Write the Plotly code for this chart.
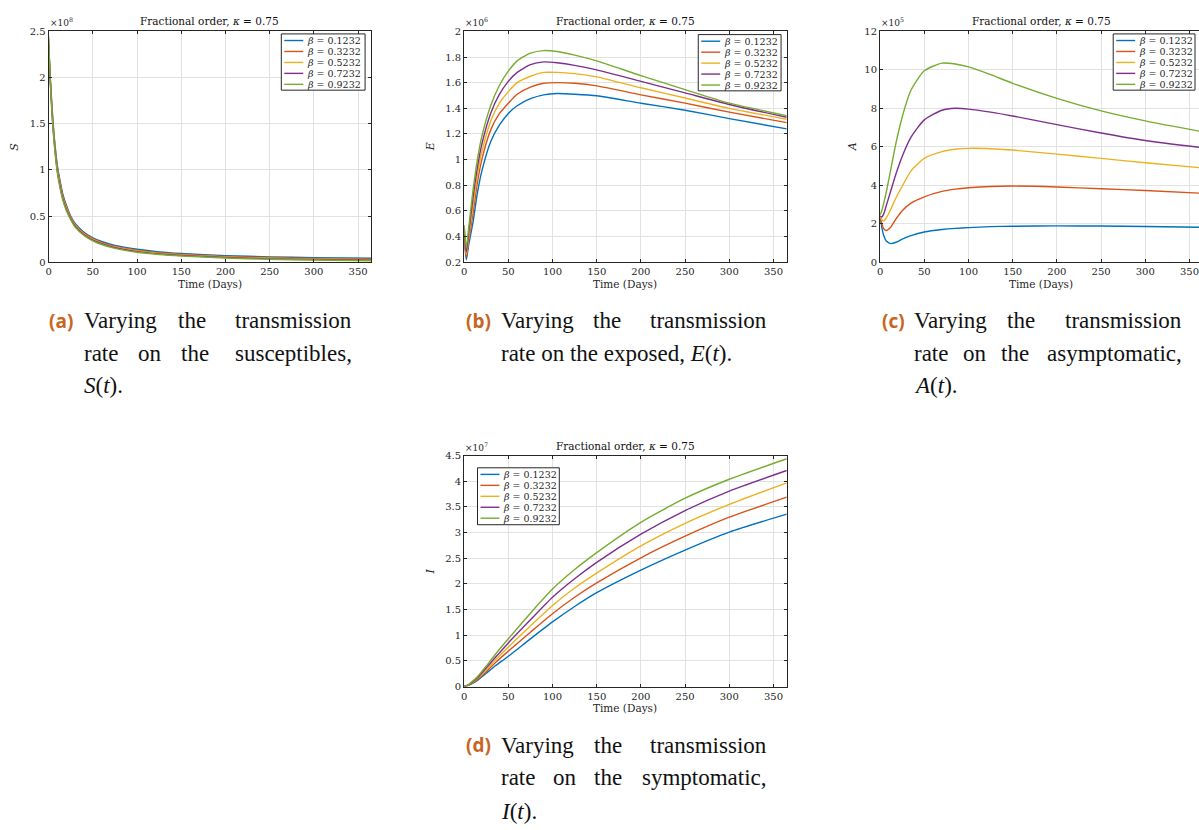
import plotly.graph_objects as go

W, H = 1199, 830

# ---------------- data ----------------
BETAS = [0.1232, 0.3232, 0.5232, 0.7232, 0.9232]
COLORS = ["#0072BD", "#D95319", "#EDB120", "#7E2F8E", "#77AC30"]

# S(t), units of 1e8
T_S = [0, 1, 2, 4, 6, 8, 10, 13, 16, 20, 25, 30, 40, 50, 60, 75, 100, 125, 150, 200, 250, 300, 365]
S_b1 = [2.30, 2.15, 1.98, 1.66, 1.40, 1.20, 1.04, 0.88, 0.74, 0.62, 0.50, 0.42, 0.325, 0.265, 0.225, 0.182, 0.140, 0.112, 0.095, 0.072, 0.058, 0.050, 0.043]
S_b2 = [2.35, 2.16, 1.97, 1.64, 1.38, 1.18, 1.02, 0.86, 0.72, 0.605, 0.49, 0.41, 0.315, 0.256, 0.216, 0.173, 0.130, 0.103, 0.087, 0.064, 0.050, 0.042, 0.035]
S_b3 = [2.38, 2.17, 1.96, 1.62, 1.36, 1.16, 1.00, 0.84, 0.705, 0.59, 0.48, 0.40, 0.306, 0.248, 0.208, 0.165, 0.122, 0.096, 0.080, 0.057, 0.043, 0.035, 0.028]
S_b4 = [2.42, 2.18, 1.95, 1.60, 1.34, 1.14, 0.98, 0.82, 0.69, 0.575, 0.47, 0.39, 0.298, 0.240, 0.200, 0.158, 0.115, 0.090, 0.074, 0.051, 0.037, 0.029, 0.022]
S_b5 = [2.45, 2.19, 1.94, 1.58, 1.32, 1.12, 0.96, 0.80, 0.675, 0.56, 0.46, 0.38, 0.290, 0.232, 0.192, 0.150, 0.108, 0.084, 0.068, 0.046, 0.032, 0.024, 0.017]

# E(t), units of 1e6
T_E = [0, 1, 2.5, 5, 10, 15, 20, 30, 40, 50, 60, 75, 90, 105, 125, 150, 200, 250, 300, 365]
E_b1 = [0.42, 0.31, 0.22, 0.33, 0.51, 0.74, 0.91, 1.14, 1.27, 1.36, 1.42, 1.475, 1.505, 1.515, 1.51, 1.498, 1.44, 1.385, 1.32, 1.24]
E_b2 = [0.44, 0.33, 0.24, 0.36, 0.58, 0.82, 1.00, 1.23, 1.36, 1.44, 1.51, 1.565, 1.595, 1.60, 1.595, 1.575, 1.505, 1.44, 1.37, 1.288]
E_b3 = [0.46, 0.35, 0.26, 0.39, 0.64, 0.88, 1.06, 1.30, 1.44, 1.53, 1.60, 1.65, 1.68, 1.68, 1.67, 1.645, 1.56, 1.48, 1.40, 1.315]
E_b4 = [0.47, 0.37, 0.28, 0.42, 0.70, 0.94, 1.12, 1.36, 1.51, 1.61, 1.68, 1.74, 1.762, 1.755, 1.735, 1.70, 1.61, 1.52, 1.43, 1.33]
E_b5 = [0.49, 0.40, 0.31, 0.46, 0.76, 1.00, 1.18, 1.42, 1.58, 1.69, 1.77, 1.83, 1.85, 1.843, 1.815, 1.77, 1.655, 1.546, 1.44, 1.343]

# A(t), units of 1e5
T_A = [0, 2, 4, 7, 12, 18, 25, 35, 50, 70, 85, 100, 125, 150, 200, 250, 300, 365]
A_b1 = [2.35, 1.80, 1.40, 1.10, 0.97, 1.04, 1.20, 1.38, 1.57, 1.70, 1.76, 1.80, 1.85, 1.87, 1.89, 1.88, 1.86, 1.82]
A_b2 = [2.40, 2.00, 1.75, 1.65, 1.82, 2.25, 2.68, 3.07, 3.40, 3.68, 3.80, 3.87, 3.94, 3.96, 3.91, 3.82, 3.73, 3.58]
A_b3 = [2.40, 2.20, 2.15, 2.30, 2.75, 3.35, 3.95, 4.75, 5.40, 5.75, 5.87, 5.92, 5.90, 5.83, 5.62, 5.40, 5.17, 4.90]
A_b4 = [2.40, 2.35, 2.50, 2.95, 3.70, 4.60, 5.50, 6.50, 7.40, 7.90, 8.00, 7.96, 7.80, 7.60, 7.15, 6.72, 6.33, 5.95]
A_b5 = [2.45, 2.70, 3.05, 3.65, 4.80, 6.20, 7.55, 8.95, 9.95, 10.35, 10.30, 10.15, 9.75, 9.30, 8.52, 7.87, 7.35, 6.78]

# I(t), units of 1e7
T_I = [0, 5, 10, 15, 25, 35, 50, 75, 100, 125, 150, 200, 250, 300, 365]
I_b1 = [0, 0.025, 0.065, 0.12, 0.26, 0.40, 0.59, 0.93, 1.26, 1.56, 1.83, 2.27, 2.66, 3.01, 3.36]
I_b2 = [0, 0.030, 0.075, 0.14, 0.29, 0.46, 0.69, 1.06, 1.42, 1.74, 2.02, 2.51, 2.93, 3.30, 3.69]
I_b3 = [0, 0.030, 0.085, 0.155, 0.32, 0.51, 0.77, 1.18, 1.58, 1.92, 2.21, 2.74, 3.18, 3.55, 3.97]
I_b4 = [0, 0.035, 0.095, 0.17, 0.36, 0.56, 0.85, 1.30, 1.74, 2.10, 2.42, 2.97, 3.43, 3.81, 4.21]
I_b5 = [0, 0.040, 0.110, 0.19, 0.40, 0.62, 0.93, 1.43, 1.90, 2.28, 2.61, 3.20, 3.67, 4.04, 4.44]

X_TICKS = [0, 50, 100, 150, 200, 250, 300, 350]
S_TICKS = [0, 0.5, 1, 1.5, 2, 2.5]
E_TICKS = [0.2, 0.4, 0.6, 0.8, 1, 1.2, 1.4, 1.6, 1.8, 2]
A_TICKS = [0, 2, 4, 6, 8, 10, 12]
I_TICKS = [0, 0.5, 1, 1.5, 2, 2.5, 3, 3.5, 4, 4.5]

TITLE = "Fractional order, <i>κ</i> = 0.75"

# ---------------- layout geometry (pixels) ----------------
PF = "DejaVu Serif"
INK = "#262626"

panels = [
    dict(t=T_S, ys=[S_b1, S_b2, S_b3, S_b4, S_b5], yr=[0, 2.5], yt=S_TICKS, exp="8", ylab="S",
         x0=45.7, x1=369.3, top=26.7, bot=260.7, xmax=365, ylx=12, legend=(279, 29.3, 84, 57), ymirror=True),
    dict(t=T_E, ys=[E_b1, E_b2, E_b3, E_b4, E_b5], yr=[0.2, 2], yt=E_TICKS, exp="6", ylab="E",
         x0=462.3, x1=785.7, top=26.7, bot=260.7, xmax=365, ylx=428.5, legend=(697, 30, 83, 57), ymirror=True),
    dict(t=T_A, ys=[A_b1, A_b2, A_b3, A_b4, A_b5], yr=[0, 12], yt=A_TICKS, exp="5", ylab="A",
         x0=879.3, x1=1199, top=26.7, bot=260.7, xmax=360.8, ylx=851.7, legend=(1113, 29.3, 82, 57), ymirror=False),
    dict(t=T_I, ys=[I_b1, I_b2, I_b3, I_b4, I_b5], yr=[0, 4.5], yt=I_TICKS, exp="7", ylab="I",
         x0=462.3, x1=785.7, top=456.7, bot=690.7, xmax=365, ylx=428.5, legend=(475.7, 469, 82, 57.7), ymirror=True),
]


def fx(px):
    return px / W


def fy(py):
    return 1 - py / H


def fmt(v):
    return "%g" % v


fig = go.Figure()
annotations = []
shapes = []

for k, p in enumerate(panels):
    sfx = "" if k == 0 else str(k + 1)
    xa = "x" + sfx
    ya = "y" + sfx
    for i, (b, c) in enumerate(zip(BETAS, COLORS)):
        fig.add_trace(go.Scatter(
            x=p["t"], y=p["ys"][i], mode="lines", xaxis=xa, yaxis=ya,
            line=dict(color=c, width=1.4, shape="spline", smoothing=0.6),
            name="β = %g" % b, showlegend=False, hoverinfo="skip"))

    common = dict(showgrid=True, gridcolor="#e2e2e2", gridwidth=1, showline=True,
                  linecolor=INK, linewidth=1, ticks="inside", ticklen=3, tickcolor=INK,
                  tickwidth=1, zeroline=False, tickfont=dict(family=PF, size=10, color=INK))
    fig.layout["xaxis" + sfx] = dict(
        common, domain=[fx(p["x0"]), fx(p["x1"])], range=[0, p["xmax"]], anchor=ya,
        tickvals=X_TICKS, ticktext=[str(v) for v in X_TICKS], mirror="allticks")
    fig.layout["yaxis" + sfx] = dict(
        common, domain=[fy(p["bot"]), fy(p["top"])], range=p["yr"], anchor=xa,
        tickvals=p["yt"], ticktext=[fmt(v) for v in p["yt"]],
        mirror="allticks" if p["ymirror"] else False)

    cx = p["x0"] + 323.4 / 2
    # title
    annotations.append(dict(x=fx(cx), y=fy(p["top"] - 10), xref="paper", yref="paper",
                            text=TITLE, showarrow=False, xanchor="center", yanchor="middle",
                            font=dict(family=PF, size=10.5, color="#111")))
    # exponent
    annotations.append(dict(x=fx(p["x0"] - 1), y=fy(p["top"] - 1), xref="paper", yref="paper",
                            text="×10<sup>%s</sup>" % p["exp"], showarrow=False,
                            xanchor="left", yanchor="bottom",
                            font=dict(family=PF, size=9, color=INK)))
    # y label
    annotations.append(dict(x=fx(p["ylx"]), y=fy((p["top"] + p["bot"]) / 2), xref="paper", yref="paper",
                            text="<i>%s</i>" % p["ylab"], showarrow=False, textangle=-90,
                            xanchor="center", yanchor="middle",
                            font=dict(family=PF, size=11, color=INK)))
    # x label
    annotations.append(dict(x=fx(cx), y=fy(p["bot"] + 22), xref="paper", yref="paper",
                            text="Time (Days)", showarrow=False, xanchor="center", yanchor="middle",
                            font=dict(family=PF, size=10.5, color=INK)))
    # legend box
    lx, ly, lw, lh = p["legend"]
    shapes.append(dict(type="rect", xref="paper", yref="paper", x0=fx(lx), x1=fx(lx + lw),
                       y0=fy(ly + lh), y1=fy(ly), line=dict(color=INK, width=1), fillcolor="white"))
    for i, (b, c) in enumerate(zip(BETAS, COLORS)):
        cy = ly + 6.7 + 11.1 * i
        shapes.append(dict(type="line", xref="paper", yref="paper", x0=fx(lx + 3), x1=fx(lx + 22),
                           y0=fy(cy), y1=fy(cy), line=dict(color=c, width=1.4)))
        annotations.append(dict(x=fx(lx + 24), y=fy(cy), xref="paper", yref="paper",
                                text="<i>β</i> = %g" % b, showarrow=False, xanchor="left",
                                yanchor="middle", font=dict(family=PF, size=9.5, color=INK)))

# ---------------- captions ----------------
CF = "Liberation Serif"
CS = 23
ORANGE = "#c8651e"


def word(x, y, text, anchor="left"):
    annotations.append(dict(x=fx(x), y=fy(y), xref="paper", yref="paper", text=text,
                            showarrow=False, xanchor=anchor, yanchor="middle",
                            font=dict(family=CF, size=CS, color="#111")))


def label(x, y, text):
    annotations.append(dict(x=fx(x), y=fy(y), xref="paper", yref="paper", text="<b>%s</b>" % text,
                            showarrow=False, xanchor="left", yanchor="middle",
                            font=dict(family="Open Sans", size=19, color=ORANGE)))


# (a)
label(44, 320, "(a)")
word(79, 320, "Varying"); word(189, 320, "the", "center"); word(352, 320, "transmission", "right")
word(79, 353, "rate"); word(147, 353, "on", "center"); word(192, 353, "the", "center"); word(352, 353, "susceptibles,", "right")
word(79, 386, "<i>S</i>(<i>t</i>).")
# (b)
label(462, 320, "(b)")
word(497, 320, "Varying"); word(606, 320, "the", "center"); word(768, 320, "transmission", "right")
word(497, 353, "rate on the exposed, <i>E</i>(<i>t</i>).")
# (c)
label(879, 320, "(c)")
word(911, 320, "Varying"); word(1021, 320, "the", "center"); word(1184, 320, "transmission", "right")
word(911, 353, "rate"); word(974, 353, "on", "center"); word(1015, 353, "the", "center"); word(1184, 353, "asymptomatic,", "right")
word(911, 386, "<i>A</i>(<i>t</i>).")
# (d)
label(462, 750, "(d)")
word(497, 750, "Varying"); word(607, 750, "the", "center"); word(768, 750, "transmission", "right")
word(497, 783, "rate"); word(563, 783, "on", "center"); word(607, 783, "the", "center"); word(768, 783, "symptomatic,", "right")
word(497, 817, "<i>I</i>(<i>t</i>).")

fig.update_layout(width=W, height=H, margin=dict(l=0, r=0, t=0, b=0),
                  paper_bgcolor="white", plot_bgcolor="white", showlegend=False,
                  annotations=annotations, shapes=shapes)

fig.write_html("out.html")
